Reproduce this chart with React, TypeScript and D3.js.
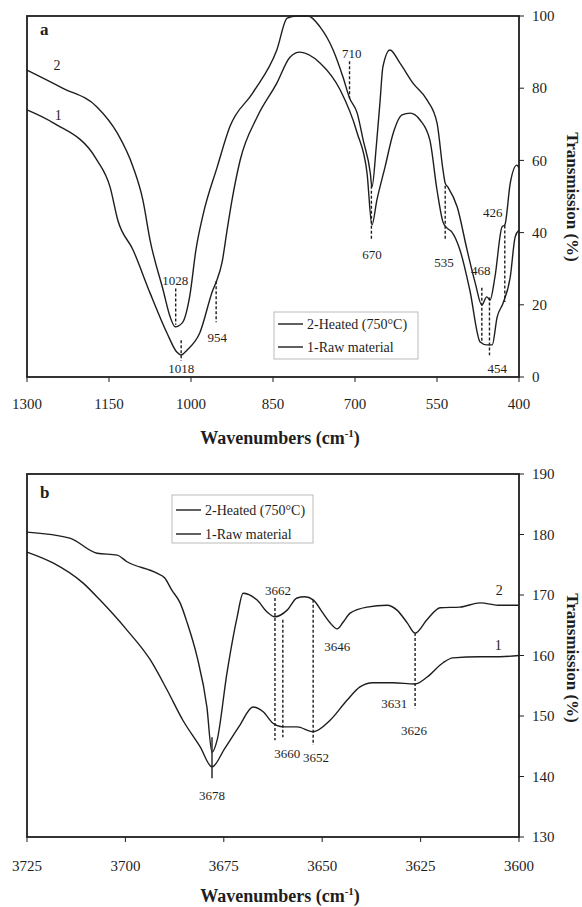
import React from "react";
import * as d3 from "d3";

const W = 582;
const H = 907;
const font = '"Liberation Serif", "Times New Roman", serif';

// panel a: wavenumber (cm-1), transmission (%)
const heatedA: [number, number][] = [
  [1300, 85.0], [1236, 80.1], [1172, 74.8], [1135, 67.6], [1106, 58.2], [1088, 49.0],
  [1075, 38.0], [1051, 24.1], [1038, 16.6], [1029, 13.9], [1016, 15.0], [1002, 22.7],
  [991, 35.2], [978, 44.9], [952, 58.2], [929, 69.3], [887, 78.7], [843, 90.6],
  [824, 99.4], [806, 100], [786, 100], [764, 97.0], [740, 90.6], [722, 83.1],
  [710, 77.3], [696, 73.1], [685, 65.6], [672, 56.5], [669, 52.6], [661, 64.0],
  [654, 76.7], [649, 85.9], [636, 90.6], [618, 87.0], [594, 81.4], [568, 76.7],
  [550, 70.4], [539, 57.3], [535, 53.7], [530, 52.6], [513, 47.1], [495, 35.2],
  [480, 26.0], [468, 19.9], [459, 22.2], [453, 21.3], [444, 27.7], [431, 41.6],
  [426, 42.1], [416, 53.7], [404, 58.7], [400, 57.9],
];
const rawA: [number, number][] = [
  [1300, 74.0], [1252, 70.4], [1172, 60.1], [1148, 52.6], [1134, 43.5], [1106, 35.2],
  [1075, 23.3], [1044, 12.2], [1026, 6.9], [1018, 6.1], [1007, 7.5], [984, 12.2],
  [960, 24.1], [954, 26.3], [943, 31.9], [934, 40.7], [925, 49.0], [910, 60.1],
  [879, 72.0], [843, 81.4], [819, 88.6], [801, 90.0], [764, 87.0], [727, 79.5],
  [696, 67.6], [678, 56.5], [669, 42.1], [660, 49.0], [645, 58.2], [630, 67.6],
  [614, 72.6], [599, 73.1], [581, 71.2], [563, 65.6], [550, 51.8], [539, 42.9],
  [532, 41.3], [523, 40.2], [508, 35.2], [490, 24.1], [471, 9.7], [459, 8.9],
  [449, 8.9], [440, 16.6], [429, 20.5], [416, 27.7], [407, 38.8], [400, 40.7],
];
const xTicksA = [1300, 1150, 1000, 850, 700, 550, 400];
const yTicksA = [0, 20, 40, 60, 80, 100];
const peaksA = [
  { text: "1028", wn: 1028, from: 24.5, to: 14.5, lx: 1029, ly: 25.5 },
  { text: "1018", wn: 1018, from: 10.2, to: 4.5, lx: 1018, ly: 1.1 },
  { text: "954", wn: 954, from: 26.5, to: 15.2, lx: 952, ly: 9.7 },
  { text: "710", wn: 710, from: 87.5, to: 77.3, lx: 706, ly: 88.4 },
  { text: "670", wn: 670, from: 53, to: 38, lx: 669, ly: 32.7 },
  { text: "535", wn: 535, from: 53, to: 38, lx: 537, ly: 30.5 },
  { text: "468", wn: 468, from: 24.7, to: 9.5, lx: 470, ly: 28.3 },
  { text: "454", wn: 454, from: 22, to: 6, lx: 440, ly: 1.1 },
  { text: "426", wn: 426, from: 42, to: 20.8, lx: 448, ly: 44.3 },
];
const curveTagsA = [
  { text: "2", wn: 1245, t: 85.0 },
  { text: "1", wn: 1243, t: 71.2 },
];

// panel b
const heatedB: [number, number][] = [
  [3725, 180.4], [3714.1, 179.4], [3707.2, 176.9], [3702.1, 176.6], [3699.6, 175.5],
  [3692.0, 173.6], [3690.0, 172.8], [3688.2, 170.8], [3686.1, 168.7], [3684.3, 165.4],
  [3681.8, 159.8], [3679.3, 151.5], [3678.0, 144.0], [3676.7, 146.0], [3674.2, 157.1],
  [3671.6, 166.4], [3670.1, 170.3], [3666.6, 169.2], [3664.0, 167.2], [3662.0, 166.4],
  [3658.9, 167.5], [3656.4, 169.5], [3654.4, 169.7], [3652.3, 169.2], [3649.8, 167.0],
  [3648.0, 165.4], [3646.2, 164.4], [3644.7, 165.5], [3642.9, 167.0], [3638.6, 168.0],
  [3633.5, 168.3], [3631.0, 167.5], [3628.4, 165.4], [3626.4, 163.7], [3623.4, 165.9],
  [3620.0, 167.9], [3615.0, 168.0], [3609.9, 168.7], [3604.8, 168.3], [3600, 168.3],
];
const rawB: [number, number][] = [
  [3725, 177.1], [3718.4, 175.3], [3710.8, 172.0], [3706.5, 169.2], [3699.6, 164.2],
  [3693.7, 159.3], [3689.4, 154.3], [3685.4, 149.3], [3681.0, 144.9], [3678.0, 141.6],
  [3674.7, 144.7], [3670.9, 148.5], [3667.6, 151.5], [3665.0, 150.7], [3662.5, 148.8],
  [3660.0, 148.2], [3656.4, 148.2], [3652.3, 147.4], [3648.0, 149.3], [3643.7, 152.6],
  [3640.4, 154.8], [3637.1, 155.5], [3632.0, 155.5], [3626.4, 155.3], [3623.4, 156.4],
  [3619.3, 158.8], [3616.8, 159.6], [3609.9, 159.8], [3604.8, 159.8], [3600, 160.0],
];
const xTicksB = [3725, 3700, 3675, 3650, 3625, 3600];
const yTicksB = [130, 140, 150, 160, 170, 180, 190];
const peaksB = [
  { text: "3678", wn: 3678, from: 146.5, to: 139.7, lx: 3678, ly: 136.1, solid: true },
  { text: "3662", wn: 3662, from: 169.5, to: 146, lx: 3661.2, ly: 170.0 },
  { text: "3660", wn: 3660, from: 165.9, to: 146.5, lx: 3658.9, ly: 143.1 },
  { text: "3652", wn: 3652.3, from: 169.2, to: 145.2, lx: 3651.6, ly: 142.4 },
  { text: "3646", lx: 3646.2, ly: 160.7 },
  { text: "3626", wn: 3626.4, from: 163.7, to: 151.3, lx: 3626.7, ly: 146.9 },
  { text: "3631", lx: 3631.7, ly: 151.3 },
];
const curveTagsB = [
  { text: "2", wn: 3605, t: 170.0 },
  { text: "1", wn: 3605.3, t: 160.9 },
];

const legendItems = ["2-Heated (750°C)", "1-Raw material"];

type Pt = [number, number];

function Panel(props: any) {
  const { top, bottom, xDomain, yDomain, xTicks, yTicks, heated, raw, peaks, tags,
    tag, tagY, legend, tickY, titleY, yTitleCy } = props;
  const left = 27, right = 519;
  const x = d3.scaleLinear().domain(xDomain).range([left, right]);
  const y = d3.scaleLinear().domain(yDomain).range([bottom, top]);
  const line = d3.line<Pt>().x(d => x(d[0])).y(d => y(d[1])).curve(d3.curveMonotoneX);
  const ink = "#1e1e1e";

  return (
    <g fontFamily={font} fill={ink}>
      {[heated, raw].map((s: Pt[], i: number) => (
        <path key={i} d={line(s) || ""} fill="none" stroke={ink} strokeWidth={1.4} />
      ))}
      {peaks.filter((p: any) => p.wn !== undefined).map((p: any) => (
        <line key={"d" + p.text} x1={x(p.wn)} x2={x(p.wn)} y1={y(p.from)} y2={y(p.to)}
          stroke={ink} strokeWidth={1.4} strokeDasharray={p.solid ? undefined : "3,2"} />
      ))}
      {peaks.map((p: any) => (
        <text key={"t" + p.text} x={x(p.lx)} y={y(p.ly)} fontSize={13} textAnchor="middle">{p.text}</text>
      ))}
      {tags.map((t: any) => (
        <text key={"c" + t.text} x={x(t.wn)} y={y(t.t)} fontSize={14} textAnchor="middle">{t.text}</text>
      ))}
      <rect x={left} y={top} width={right - left} height={bottom - top} fill="none" stroke={ink} strokeWidth={1.8} />
      {xTicks.map((t: number) => (
        <g key={"x" + t}>
          <line x1={x(t)} x2={x(t)} y1={bottom} y2={bottom + 5} stroke={ink} strokeWidth={1} />
          <text x={x(t)} y={tickY} fontSize={15} textAnchor="middle">{t}</text>
        </g>
      ))}
      {yTicks.map((t: number) => (
        <g key={"y" + t}>
          <line x1={right} x2={right + 5} y1={y(t)} y2={y(t)} stroke={ink} strokeWidth={1} />
          <text x={right + 13} y={y(t)} dy="0.35em" fontSize={15}>{t}</text>
        </g>
      ))}
      <text x={280} y={titleY} fontSize={18} fontWeight="bold" textAnchor="middle">
        Wavenumbers (cm<tspan fontSize={11} dy={-7}>-1</tspan><tspan dy={7}>)</tspan>
      </text>
      <text transform={`translate(567,${yTitleCy}) rotate(90)`} fontSize={17} fontWeight="bold" textAnchor="middle">
        Transmission (%)
      </text>
      <text x={40} y={tagY} fontSize={17} fontWeight="bold">{tag}</text>
      <g transform={`translate(${legend.x},${legend.y})`}>
        <rect width={legend.w} height={legend.h} fill="#fff" stroke="#bbb" strokeWidth={1} />
        {legendItems.map((s, i) => (
          <g key={s} transform={`translate(0,${legend.row0 + i * legend.step})`}>
            <line x1={4} x2={29} stroke={ink} strokeWidth={1.4} />
            <text x={33} dy="0.35em" fontSize={14}>{s}</text>
          </g>
        ))}
      </g>
    </g>
  );
}

export default function App() {
  return (
    <svg width={W} height={H} style={{ position: "absolute", left: 0, top: 0, background: "#fff" }}>
      <rect width={W} height={H} fill="#fff" />
      <Panel top={16} bottom={377} xDomain={[1300, 400]} yDomain={[0, 100]}
        xTicks={xTicksA} yTicks={yTicksA} heated={heatedA} raw={rawA} peaks={peaksA}
        tags={curveTagsA} tag="a" tagY={35} tickY={409} titleY={444} yTitleCy={197}
        legend={{ x: 274, y: 312, w: 144, h: 47, row0: 12, step: 23 }} />
      <Panel top={474} bottom={837} xDomain={[3725, 3600]} yDomain={[130, 190]}
        xTicks={xTicksB} yTicks={yTicksB} heated={heatedB} raw={rawB} peaks={peaksB}
        tags={curveTagsB} tag="b" tagY={498} tickY={871} titleY={902} yTitleCy={658}
        legend={{ x: 172, y: 495, w: 141, h: 48, row0: 15, step: 24 }} />
    </svg>
  );
}
